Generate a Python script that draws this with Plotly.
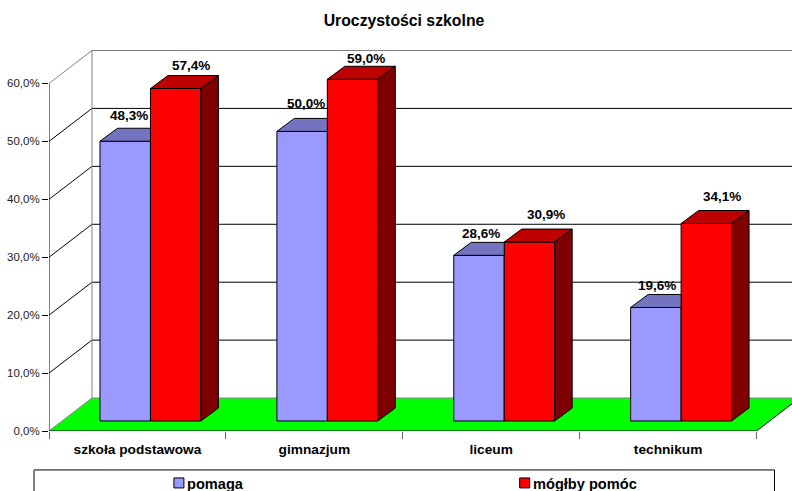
import plotly.graph_objects as go

# --- data ---
categories = ["szkoła podstawowa", "gimnazjum", "liceum", "technikum"]
series_names = ["pomaga", "mógłby pomóc"]
pomaga = [48.3, 50.0, 28.6, 19.6]
moglby = [57.4, 59.0, 30.9, 34.1]
y_ticks = [0, 10, 20, 30, 40, 50, 60]
title_text = "Uroczystości szkolne"

# --- geometry in axis units (1 category = 177 px, 1 % = 5.8 px) ---
PX_X, PX_Y = 177.0, 5.8
LEFT, ZERO, TOP = 48.5, 431.5, 50
WALL_DX, WALL_DY = 43 / PX_X, 33 / PX_Y
BAR_BASE = 10 / PX_Y
BAR_DX, BAR_DY = 17.5 / PX_X, 13 / PX_Y
BAR_W = 0.2853
OFF_A, OFF_B = -0.2147 + 0.003, 0.0706 + 0.003
XMAX, YMAX = (792 - LEFT) / PX_X, (ZERO - TOP) / PX_Y

# label nudges (px)
nudge_a = [(4, 26), (3.5, 28), (2.5, 22), (1.5, 22)]
nudge_b = [(15.5, 23), (13.5, 21), (16.5, 28), (15.5, 27)]

FONT = "Liberation Sans, Arial, sans-serif"
BLUE, BLUE_TOP = "#9999FF", "#7373BF"
RED, RED_TOP, RED_SIDE = "#FF0000", "#BF0000", "#7F0000"
GREEN = "#00FF00"
GRAY = "#808080"

xc = [i + 0.5 for i in range(len(categories))]
fig = go.Figure()

# front faces
fig.add_bar(x=xc, y=pomaga, base=BAR_BASE, width=BAR_W, offset=OFF_A, name=series_names[0],
            marker=dict(color=BLUE, line=dict(color="black", width=1)), cliponaxis=False, showlegend=False)
fig.add_bar(x=xc, y=moglby, base=BAR_BASE, width=BAR_W, offset=OFF_B, name=series_names[1],
            marker=dict(color=RED, line=dict(color="black", width=1)), cliponaxis=False, showlegend=False)

# top and side faces
bx, by, rtx, rty, rsx, rsy = [], [], [], [], [], []
for c, a, b in zip(xc, pomaga, moglby):
    x0, x1 = c + OFF_A, c + OFF_A + BAR_W
    t = a + BAR_BASE
    bx += [x0, x1, x1, x0 + BAR_DX, x0, None]
    by += [t, t, t + BAR_DY, t + BAR_DY, t, None]
    x0, x1 = c + OFF_B, c + OFF_B + BAR_W
    t = b + BAR_BASE
    rtx += [x0, x1, x1 + BAR_DX, x0 + BAR_DX, x0, None]
    rty += [t, t, t + BAR_DY, t + BAR_DY, t, None]
    rsx += [x1, x1 + BAR_DX, x1 + BAR_DX, x1, x1, None]
    rsy += [t, t + BAR_DY, BAR_BASE + BAR_DY, BAR_BASE, t, None]
for px, py, col in [(bx, by, BLUE_TOP), (rtx, rty, RED_TOP), (rsx, rsy, RED_SIDE)]:
    fig.add_scatter(x=px, y=py, mode="lines", fill="toself", fillcolor=col,
                    line=dict(color="black", width=1), cliponaxis=False,
                    showlegend=False, hoverinfo="skip")

# axis lines
nc = len(categories)
fig.add_scatter(x=[0, 0, None, 0, nc], y=[-7 / PX_Y, y_ticks[-1], None, 0, 0], mode="lines",
                line=dict(color="black", width=1), cliponaxis=False,
                showlegend=False, hoverinfo="skip")

# walls, floor, gridlines
shapes = []
floor = (f"M0,0 L{nc},0 L{nc + WALL_DX},{WALL_DY} L{WALL_DX},{WALL_DY} Z")
shapes.append(dict(type="path", path=floor, xref="x", yref="y", fillcolor=GREEN,
                   line=dict(width=0), layer="below"))
def seg(x0, y0, x1, y1, col):
    shapes.append(dict(type="line", xref="x", yref="y", x0=x0, y0=y0, x1=x1, y1=y1,
                       line=dict(color=col, width=1), layer="below"))
for v in y_ticks:
    col = GRAY if v in (y_ticks[0], y_ticks[-1]) else "black"
    seg(0, v, WALL_DX, v + WALL_DY, col)
    seg(WALL_DX, v + WALL_DY, XMAX, v + WALL_DY, col)
seg(WALL_DX, WALL_DY, WALL_DX, y_ticks[-1] + WALL_DY, GRAY)
seg(nc, 0, nc + WALL_DX, WALL_DY, "black")

# legend box + swatches ("paper" is the plot area, so convert page px)
W_PLOT, H_PLOT = 792 - LEFT, ZERO - TOP
def pxx(p): return (p - LEFT) / W_PLOT
def pxy(p): return (ZERO - p) / H_PLOT
shapes.append(dict(type="rect", xref="paper", yref="paper", x0=pxx(33.5), x1=pxx(774.5), y0=pxy(470.5), y1=pxy(505),
                   line=dict(color="black", width=1), fillcolor="white", layer="above"))
shapes.append(dict(type="line", xref="paper", yref="paper", x0=pxx(33.5), x1=pxx(33.5), y0=pxy(470.5), y1=pxy(505),
                   line=dict(color=GRAY, width=2), layer="above"))
shapes.append(dict(type="rect", xref="paper", yref="paper", x0=pxx(173.5), x1=pxx(183.5), y0=pxy(478.5), y1=pxy(488.5),
                   line=dict(color="black", width=1), fillcolor=BLUE, layer="above"))
shapes.append(dict(type="rect", xref="paper", yref="paper", x0=pxx(519.5), x1=pxx(529.5), y0=pxy(478.5), y1=pxy(488.5),
                   line=dict(color="black", width=1), fillcolor=RED, layer="above"))

annotations = []
for vals, off, nudge in [(pomaga, OFF_A, nudge_a), (moglby, OFF_B, nudge_b)]:
    for c, v, (dx, dy) in zip(xc, vals, nudge):
        label = f"{v:.1f}%".replace(".", ",")
        annotations.append(dict(x=c + off + BAR_W / 2, y=v + BAR_BASE, xref="x", yref="y",
                                text=f"<b>{label}</b>", showarrow=False,
                                xshift=dx, yshift=dy, yanchor="middle", xanchor="center",
                                font=dict(family=FONT, size=13.5, color="black")))
for name, lx in zip(series_names, [185, 531]):
    annotations.append(dict(x=pxx(lx), y=pxy(485), xref="paper", yref="paper", xanchor="left", yanchor="middle",
                            text=f"<b>{name}</b>", showarrow=False,
                            font=dict(family=FONT, size=14.6, color="black")))

fig.update_layout(
    width=792, height=491, autosize=False,
    margin=dict(l=LEFT, r=0, t=TOP, b=491 - ZERO, pad=0),
    paper_bgcolor="white", plot_bgcolor="white",
    barmode="overlay", showlegend=False, shapes=shapes, annotations=annotations,
    title=dict(text=f"<b>{title_text}</b>", x=404 / 792, xanchor="center", y=1 - 20 / 491, yanchor="middle",
               font=dict(family=FONT, size=15.8, color="black")),
    xaxis=dict(range=[0, XMAX], showgrid=False, zeroline=False, showline=False,
               tickmode="array", tickvals=xc, ticktext=[f"<b>{c}</b>" for c in categories],
               ticks="", ticklen=0, ticklabelstandoff=8, tickfont=dict(family=FONT, size=13.7, color="black"),
               minor=dict(tickmode="array", tickvals=list(range(nc + 1)), ticks="outside", ticklen=7,
                          tickcolor="#666666", tickwidth=1, showgrid=False)),
    yaxis=dict(range=[0, YMAX], showgrid=False, zeroline=False, showline=False,
               tickmode="array", tickvals=y_ticks, ticktext=[f"{v:.1f}%".replace(".", ",") for v in y_ticks],
               ticks="outside", ticklen=6, tickcolor="black", tickwidth=1,
               tickfont=dict(family=FONT, size=11.5, color="#222222")),
)

fig.write_html("out.html", config=dict(displayModeBar=False),
               post_script="document.body.style.margin='0';document.body.style.overflow='hidden';")
